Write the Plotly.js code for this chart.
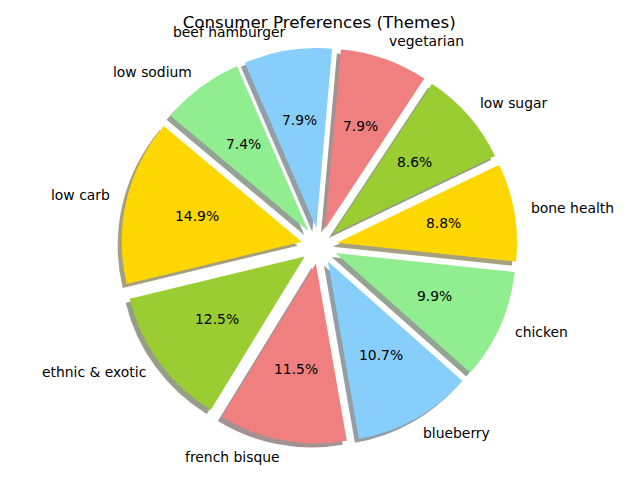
<!DOCTYPE html>
<html>
<head>
<meta charset="utf-8">
<script src="https://cdn.plot.ly/plotly-3.0.1.min.js"></script>
<style>html,body{margin:0;padding:0;background:#fff;}#chart{width:640px;height:480px;}</style>
</head>
<body>
<div id="chart"></div>
<script>
// ---- data ----
const labels = ['low carb', 'ethnic & exotic', 'french bisque', 'blueberry', 'chicken',
                'bone health', 'low sugar', 'vegetarian', 'beef hamburger', 'low sodium'];
const values = [14.9, 12.5, 11.5, 10.7, 9.9, 8.8, 8.6, 7.9, 7.9, 7.4];
const baseColors = ['#FFD700', '#9ACD32', '#F08080', '#87CEFA', '#90EE90'];

// ---- layout constants ----
const W = 640, H = 480;
const CX = 319.2, CY = 245.8;   // pie centre in px
const R = 180;                  // pie radius in px
const PULL = 0.1;
const START = 140;              // start angle (deg, counterclockwise from 3 o'clock)
const SH = 4;                   // shadow offset px
const FONT = 'DejaVu Sans';

const colors = labels.map((_, i) => baseColors[i % baseColors.length]);
function shadowOf(hex) {
  const r = parseInt(hex.slice(1,3),16), g = parseInt(hex.slice(3,5),16), b = parseInt(hex.slice(5,7),16);
  return `rgba(${(0.3*r).toFixed(1)},${(0.3*g).toFixed(1)},${(0.3*b).toFixed(1)},0.5)`;
}
const shadowColors = colors.map(shadowOf);

const half = R * (1 + PULL);
function domainFor(cx, cy) {
  return {
    x: [(cx - half) / W, (cx + half) / W],
    y: [1 - (cy + half) / H, 1 - (cy - half) / H]
  };
}

const total = values.reduce((a, b) => a + b, 0);
const firstAngle = 360 * values[0] / total;
const rotation = 90 - START - firstAngle;

const common = {
  type: 'pie', labels: labels, values: values, sort: false,
  direction: 'counterclockwise', rotation: rotation,
  pull: values.map(() => PULL), textinfo: 'none', hoverinfo: 'skip',
  showlegend: false
};

const shadow = Object.assign({}, common, {
  marker: {colors: shadowColors, line: {width: 0}},
  domain: domainFor(CX - SH, CY + SH)
});
const main = Object.assign({}, common, {
  marker: {colors: colors, line: {width: 0}},
  domain: domainFor(CX, CY)
});

// label / percentage annotations following the slices' mid angles
const annotations = [];
let a0 = START;
values.forEach((v, i) => {
  const span = 360 * v / total;
  const mid = (a0 + span / 2) * Math.PI / 180;
  a0 += span;
  const c = Math.cos(mid), s = Math.sin(mid);
  const lr = R * (1.1 + PULL), pr = R * (0.6 + PULL);
  annotations.push({
    xref: 'paper', yref: 'paper',
    x: (CX + lr * c) / W, y: 1 - (CY - lr * s) / H,
    xanchor: c > 0 ? 'left' : 'right', yanchor: 'middle',
    xshift: c > 0 ? -2.5 : 2.5, yshift: 1, borderpad: 0,
    text: labels[i], showarrow: false,
    font: {family: FONT, size: 13.9, color: '#000'}
  });
  annotations.push({
    xref: 'paper', yref: 'paper',
    x: (CX + pr * c) / W, y: 1 - (CY - pr * s) / H,
    xanchor: 'center', yanchor: 'middle', yshift: 1, borderpad: 0,
    text: (100 * v / total).toFixed(1) + '%', showarrow: false,
    font: {family: FONT, size: 13.9, color: '#000'}
  });
});

const layout = {
  width: W, height: H,
  margin: {l: 0, r: 0, t: 0, b: 0},
  paper_bgcolor: '#fff', plot_bgcolor: '#fff',
  title: {
    text: 'Consumer Preferences (Themes)',
    x: CX / W, xanchor: 'center', xref: 'container',
    y: 1 - 22.5 / H, yanchor: 'middle', yref: 'container',
    font: {family: FONT, size: 16.7, color: '#000'}
  },
  annotations: annotations,
  showlegend: false
};

Plotly.newPlot('chart', [shadow, main], layout, {staticPlot: true, displayModeBar: false});
</script>
</body>
</html>
